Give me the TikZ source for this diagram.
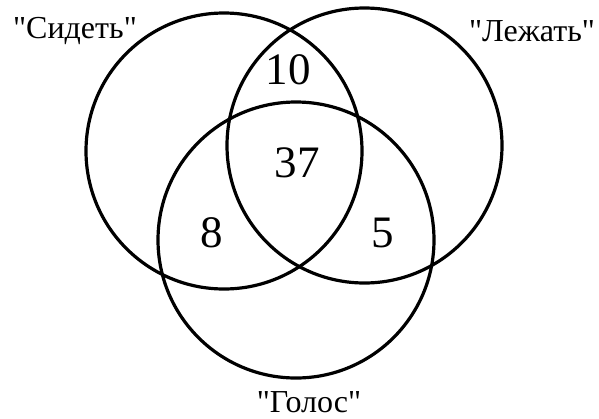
\documentclass[tikz,border=0pt]{standalone}
\usepackage{fontspec}
\setmainfont[Ligatures=TeXOff]{Liberation Serif}
\begin{document}
\begin{tikzpicture}[x=1pt,y=-1pt,
  setcircle/.style={draw=black,line width=3.2pt},
  setlabel/.style={font=\fontsize{32}{35}\selectfont,inner sep=0pt},
  count/.style={font=\fontsize{45}{48}\selectfont,inner sep=0pt}]
\useasboundingbox (0,0) rectangle (599,418);
\draw[setcircle] (224,151) circle[radius=138];
\draw[setcircle] (364.5,145.5) circle[radius=137.5];
\draw[setcircle] (296,240) circle[radius=138];
\node[setlabel] (sit) at (75,31) {"Сидеть"};
\node[setlabel] (lie) at (532,31) {"Лежать"};
\node[setlabel] (voice) at (309,402) {"Голос"};
\node[count] (n10) at (288,70) {10};
\node[count] (n37) at (297,163) {37};
\node[count] (n8) at (212,233) {8};
\node[count] (n5) at (383,233) {5};
\end{tikzpicture}
\end{document}
